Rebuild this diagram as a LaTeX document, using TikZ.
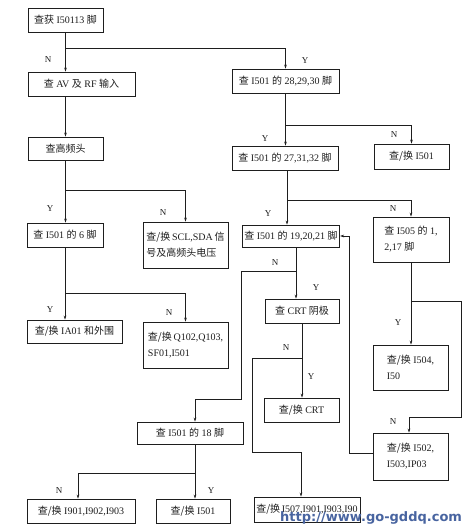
\documentclass[tikz,border=0pt]{standalone}
\usepackage{fontspec}
\setmainfont{Liberation Serif}
\newfontfamily\cjk{Noto Sans CJK SC}
\newfontfamily\wmfont{DejaVu Sans}
\newcommand\zh[1]{{\cjk #1}}
\usetikzlibrary{arrows.meta}
\definecolor{ink}{RGB}{30,30,30}
\definecolor{wmblue}{RGB}{72,100,160}
\tikzset{
  box/.style={draw=ink, line width=0.8pt, inner sep=2pt, align=left,
    font=\fontsize{10}{16}\selectfont, text=ink},
  line/.style={draw=ink, line width=0.7pt},
  arr/.style={line, -{Stealth[length=4pt,width=2.6pt]}},
  yn/.style={font=\fontsize{9}{9}\selectfont, text=ink, inner sep=0pt}
}
\begin{document}
\begin{tikzpicture}[x=1pt,y=-1pt]
\useasboundingbox[fill=white] (0,0) rectangle (471,529);
% boxes
\node[box, minimum width=75, minimum height=24] (b1) at (65.5,20) {\zh{查获} I50113 \zh{脚}};
\node[box, minimum width=107, minimum height=24] (b2) at (81.5,84) {\zh{查} AV \zh{及} RF \zh{输入}};
\node[box, minimum width=75, minimum height=23] (b3) at (65.5,148.5) {\zh{查高频头}};
\node[box, minimum width=107, minimum height=24] (b4) at (285.5,81) {\zh{查} I501 \zh{的} 28,29,30 \zh{脚}};
\node[box, minimum width=106, minimum height=24] (b5) at (285,158) {\zh{查} I501 \zh{的} 27,31,32 \zh{脚}};
\node[box, minimum width=75, minimum height=25] (b6) at (411.5,156.5) {\zh{查/换} I501};
\node[box, minimum width=76, minimum height=24] (b7) at (65,235) {\zh{查} I501 \zh{的} 6 \zh{脚}};
\node[box, minimum width=85, minimum height=46, inner xsep=1pt] (b8) at (185.5,245) {\zh{查/换}\,SCL,SDA\,\zh{信}\\\zh{号及高频头电压}};
\node[box, minimum width=95, minimum height=23] (b9) at (74.5,331.5) {\zh{查/换} IA01 \zh{和外围}};
\node[box, minimum width=85, minimum height=46, inner xsep=1pt] (b10) at (185.5,345) {\zh{查/换}\,Q102,Q103,\\SF01,I501};
\node[box, minimum width=96, minimum height=22] (b11) at (291,236) {\zh{查} I501 \zh{的} 19,20,21 \zh{脚}};
\node[box, minimum width=76, minimum height=45] (b12) at (411,239.5) {\zh{查} I505 \zh{的} 1,\\2,17 \zh{脚}};
\node[box, minimum width=74, minimum height=24] (b13) at (302,311) {\zh{查} CRT \zh{阴极}};
\node[box, minimum width=75, minimum height=45] (b14) at (410.5,367.5) {\zh{查/换} I504,\\I50\hphantom{4,I504}};
\node[box, minimum width=75, minimum height=24] (b15) at (301.5,410) {\zh{查/换} CRT};
\node[box, minimum width=75, minimum height=47] (b16) at (410.5,456.5) {\zh{查/换} I502,\\I503,IP03};
\node[box, minimum width=106, minimum height=22] (b17) at (190,433) {\zh{查} I501 \zh{的} 18 \zh{脚}};
\node[box, minimum width=108, minimum height=24] (b18) at (81,511) {\zh{查/换} I901,I902,I903};
\node[box, minimum width=74, minimum height=24] (b19) at (193,511) {\zh{查/换} I501};
\node[box, minimum width=106, minimum height=25, inner xsep=1pt] (b20) at (307,509.5) {\zh{查/换}\,I507,I901,I903,I90};
% junction coordinates
\coordinate (j1) at (67,48);
\coordinate (j3) at (67,190);
\coordinate (j4) at (67,293);
\coordinate (j5) at (285,125);
\coordinate (j6) at (287,200);
\coordinate (k11) at (296,250);
\coordinate (t1) at (241,271);
\coordinate (t2) at (241,399);
\coordinate (t3) at (195,399);
\coordinate (p1) at (252,358);
\coordinate (p2) at (301,452);
\coordinate (q1) at (461,301);
\coordinate (q2) at (409,417);
\coordinate (r1) at (349,453);
\coordinate (s0) at (195,473);
\coordinate (s1) at (78,473);
% connectors
\draw[arr] (b1.south) -- (b1.south |- b2.north);
\draw[arr] (b1.south |- j1) -| (b4.north);
\draw[arr] (b3.north |- b2.south) -- (b3.north);
\draw[arr] (b3.south) -- (b3.south |- b7.north);
\draw[arr] (b3.south |- j3) -| (b8.north);
\draw[arr] (b7.south) -- (b7.south |- b9.north);
\draw[arr] (b7.south |- j4) -| (b10.north);
\draw[arr] (b4.south) -- (b4.south |- b5.north);
\draw[arr] (b4.south |- j5) -| (b6.north);
\draw[arr] (j6 |- b5.south) -- (j6 |- b11.north);
\draw[arr] (j6) -| (b12.north);
\draw[arr] (k11 |- b11.south) -- (k11 |- b13.north);
\draw[arr] (k11 |- t1) -- (t1) -- (t2) -- (t3) -- (t3 |- b17.north);
\draw[arr] (b13.south) -- (b13.south |- b15.north);
\draw[arr] (b13.south |- p1) -- (p1) |- (p2) -- (p2 |- b20.north);
\draw[arr] (b12.south) -- (b12.south |- b14.north);
\draw[arr] (b12.south |- q1) -- (q1) |- (q2) -- (q2 |- b16.north);
\draw[arr] (b16.west |- r1) -- (r1) |- (b11.east);
\draw[arr] (s0 |- b17.south) -- (s0 |- b19.north);
\draw[arr] (s0) -- (s1) -- (s1 |- b18.north);
% Y/N labels
\node[yn] (l1) at (48,60) {N};
\node[yn] (l2) at (305,61) {Y};
\node[yn] (l3) at (50,209) {Y};
\node[yn] (l4) at (163,213) {N};
\node[yn] (l5) at (50,310) {Y};
\node[yn] (l6) at (169,313) {N};
\node[yn] (l7) at (265,139) {Y};
\node[yn] (l8) at (394,135) {N};
\node[yn] (l9) at (268,214) {Y};
\node[yn] (l10) at (393,209) {N};
\node[yn] (l11) at (316,288) {Y};
\node[yn] (l12) at (275,263) {N};
\node[yn] (l13) at (311,377) {Y};
\node[yn] (l14) at (286,348) {N};
\node[yn] (l15) at (398,323) {Y};
\node[yn] (l16) at (393,422) {N};
\node[yn] (l17) at (59,491) {N};
\node[yn] (l18) at (211,491) {Y};
% watermark
\node[anchor=base west, inner sep=0pt, text=wmblue, font=\wmfont\bfseries\fontsize{13}{13}\selectfont] (wm) at (280,521) {http://www.go-gddq.com};
\end{tikzpicture}
\end{document}
